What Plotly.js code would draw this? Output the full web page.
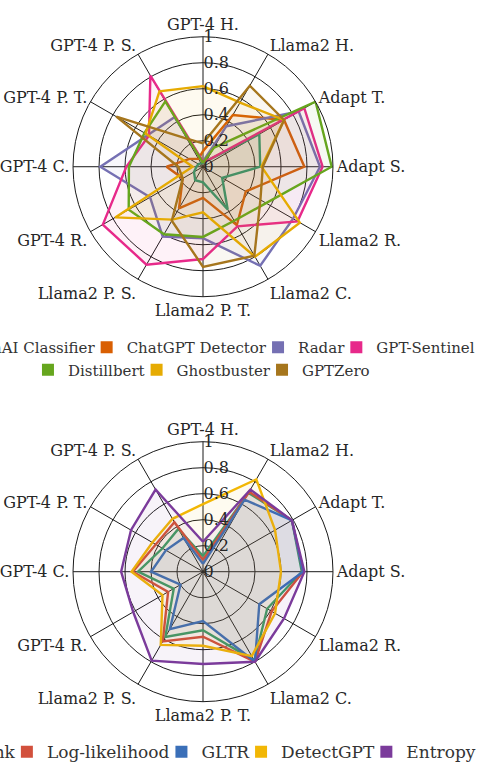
<!DOCTYPE html>
<html><head><meta charset="utf-8">
<script src="https://cdn.plot.ly/plotly-3.0.1.min.js"></script>
<style>
html,body{margin:0;padding:0;overflow:hidden;background:#fff;width:479px;height:765px;}
#chart{position:absolute;left:-120px;top:0;width:640px;height:780px;}
</style>
</head><body><div id="chart"></div>
<script>
// ---- data ----
const categories = ['GPT-4 H.', 'Llama2 H.', 'Adapt T.', 'Adapt S.', 'Llama2 R.', 'Llama2 C.',
  'Llama2 P. T.', 'Llama2 P. S.', 'GPT-4 R.', 'GPT-4 C.', 'GPT-4 P. T.', 'GPT-4 P. S.'];

const radialTicks = [0, 0.2, 0.4, 0.6, 0.8, 1];
const radialTickText = ['0', '0.2', '0.4', '0.6', '0.8', '1'];

// top chart
const topNamesRow1 = ['OpenAI Classifier', 'ChatGPT Detector', 'Radar', 'GPT-Sentinel'];
const topNamesRow2 = ['Distillbert', 'Ghostbuster', 'GPTZero'];
const topColors = ['#1b9e77', '#d95f02', '#7570b3', '#e7298a', '#66a61e', '#e6ab02', '#a6761d'];
const openaiClassifier = [0.03, 0.05, 0.50, 0.44, 0.17, 0.38, 0.12, 0.12, 0.08, 0.05, 0.04, 0.03];
const chatgptDetector  = [0.12, 0.46, 0.72, 0.78, 0.38, 0.52, 0.24, 0.37, 0.18, 0.28, 0.12, 0.07];
const radar            = [0.04, 0.36, 0.85, 0.90, 0.80, 0.88, 0.55, 0.62, 0.47, 0.79, 0.49, 0.44];
const gptSentinel      = [0.04, 0.05, 0.90, 0.92, 0.84, 0.53, 0.71, 0.87, 0.89, 0.59, 0.48, 0.81];
const distillbert      = [0.03, 0.17, 1.00, 0.99, 0.56, 0.48, 0.54, 0.60, 0.66, 0.57, 0.52, 0.58];
const ghostbuster      = [0.62, 0.57, 0.72, 0.45, 0.86, 0.80, 0.35, 0.47, 0.78, 0.08, 0.51, 0.67];
const gptZero          = [0.18, 0.72, 0.72, 0.46, 0.51, 0.79, 0.77, 0.48, 0.18, 0.19, 0.77, 0.25];
const topSeries = [openaiClassifier, chatgptDetector, radar, gptSentinel, distillbert, ghostbuster, gptZero];

// bottom chart
const bottomNames = ['Log-rank', 'Log-likelihood', 'GLTR', 'DetectGPT', 'Entropy'];
const bottomColors = ['#33a06c', '#d2503c', '#3a6fb8', '#f2b705', '#7b3b9b'];
const logRank       = [0.12, 0.70, 0.79, 0.76, 0.57, 0.79, 0.45, 0.58, 0.26, 0.50, 0.36, 0.38];
const logLikelihood = [0.09, 0.71, 0.79, 0.77, 0.61, 0.80, 0.50, 0.62, 0.31, 0.54, 0.42, 0.44];
const gltr          = [0.06, 0.64, 0.79, 0.77, 0.50, 0.80, 0.38, 0.51, 0.20, 0.40, 0.33, 0.30];
const detectGPT     = [0.52, 0.82, 0.64, 0.60, 0.64, 0.75, 0.57, 0.65, 0.36, 0.55, 0.45, 0.47];
const entropy       = [0.23, 0.73, 0.79, 0.78, 0.72, 0.80, 0.71, 0.79, 0.62, 0.63, 0.64, 0.73];
const bottomSeries = [logRank, logLikelihood, gltr, detectGPT, entropy];

// ---- build ----
const FONT = 'DejaVu Serif';
const TOP_LEGEND_SIZE = 15, BOTTOM_LEGEND_SIZE = 17;
const ctx = document.createElement('canvas').getContext('2d');
function textWidth(s, size) { ctx.font = size + 'px "' + FONT + '"'; return ctx.measureText(s).width; }
function closed(a) { return a.concat([a[0]]); }
function rgba(hex, a) {
  const n = parseInt(hex.slice(1), 16);
  return 'rgba(' + ((n >> 16) & 255) + ',' + ((n >> 8) & 255) + ',' + (n & 255) + ',' + a + ')';
}
const traces = [];
function addSeries(name, color, values, subplot, legend, fontSize, isLast) {
  const w = textWidth(name, fontSize);
  traces.push({
    type: 'scatterpolar', subplot: subplot, r: closed(values), theta: closed(categories),
    mode: 'lines', fill: 'toself', fillcolor: rgba(color, 0.06),
    line: { color: color, width: 2.4 }, showlegend: false, hoverinfo: 'skip', name: name
  });
  traces.push({
    type: 'scatterpolar', subplot: subplot, r: values, theta: categories,
    mode: 'markers', marker: { color: color, size: 0.01, symbol: 'square', line: { width: 0 } },
    name: name, legend: legend, showlegend: true, hoverinfo: 'skip',
    legendwidth: isLast ? w + 4 : Math.max(1, w - 13)
  });
}
topNamesRow1.forEach((n, i) => addSeries(n, topColors[i], topSeries[i], 'polar', 'legend',
  TOP_LEGEND_SIZE, i === topNamesRow1.length - 1));
topNamesRow2.forEach((n, j) => {
  const i = j + topNamesRow1.length;
  addSeries(n, topColors[i], topSeries[i], 'polar', 'legend2', TOP_LEGEND_SIZE, j === topNamesRow2.length - 1);
});
bottomNames.forEach((n, i) => addSeries(n, bottomColors[i], bottomSeries[i], 'polar2', 'legend3',
  BOTTOM_LEGEND_SIZE, i === bottomNames.length - 1));

function angAxis() {
  return {
    type: 'category', direction: 'clockwise', rotation: 90, ticks: '',
    showline: true, linecolor: '#1a1a1a', linewidth: 1,
    gridcolor: '#1a1a1a', gridwidth: 1,
    tickfont: { family: FONT, size: 16, color: '#262626' }
  };
}
function radAxis() {
  return {
    range: [0, 1], tickvals: radialTicks, ticktext: radialTickText, angle: 90, tickangle: 90,
    showline: false, ticks: '', gridcolor: '#1a1a1a', gridwidth: 1,
    tickfont: { family: FONT, size: 16, color: '#262626' }
  };
}
function legendCfg(x, y, size) {
  return {
    x: x, xanchor: 'left', y: y, yanchor: 'top', orientation: 'h',
    font: { family: FONT, size: size, color: '#333' }, bgcolor: 'rgba(0,0,0,0)',
    itemsizing: 'constant'
  };
}
const layout = {
  width: 640, height: 780, margin: { l: 0, r: 0, t: 0, b: 0 },
  paper_bgcolor: '#fff', showlegend: true,
  font: { family: FONT, color: '#262626' },
  polar: { domain: { x: [0.3016, 0.7078], y: [0.6196, 0.9529] }, bgcolor: '#fff',
    angularaxis: angAxis(), radialaxis: radAxis() },
  polar2: { domain: { x: [0.3016, 0.7078], y: [0.1004, 0.4337] }, bgcolor: '#fff',
    angularaxis: angAxis(), radialaxis: radAxis() },
  legend: legendCfg(0.0644, 0.5756, TOP_LEGEND_SIZE),
  legend2: legendCfg(0.2312, 0.5468, TOP_LEGEND_SIZE),
  legend3: legendCfg(0.0269, 0.0587, BOTTOM_LEGEND_SIZE)
};
Plotly.newPlot('chart', traces, layout, { staticPlot: true, displayModeBar: false });
</script>
</body></html>
